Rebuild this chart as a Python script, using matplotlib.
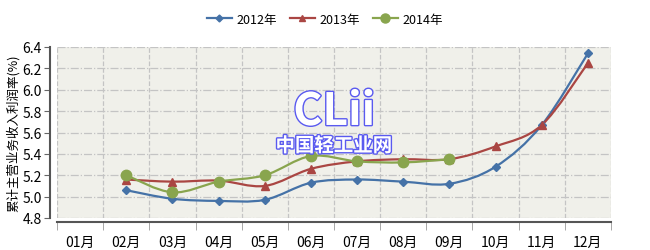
import numpy as np
import matplotlib.pyplot as plt
import matplotlib.patheffects as pe
from matplotlib.path import Path
from matplotlib.patches import PathPatch
from matplotlib.lines import Line2D

plt.rcParams["font.family"] = ["Noto Sans CJK SC", "DejaVu Sans"]

months = ['01月', '02月', '03月', '04月', '05月', '06月', '07月', '08月', '09月', '10月', '11月', '12月']
y2012 = [None, 5.06, 4.98, 4.96, 4.97, 5.13, 5.16, 5.14, 5.12, 5.28, 5.67, 6.34]
y2013 = [None, 5.16, 5.14, 5.15, 5.10, 5.26, 5.33, 5.35, 5.35, 5.47, 5.67, 6.25]
y2014 = [None, 5.20, 5.04, 5.14, 5.20, 5.38, 5.33, 5.32, 5.35]
series_names = ['2012年', '2013年', '2014年']
colors = ['#4572A7', '#AA4643', '#89A54E']
markers = ['D', '^', 'o']
msizes = [4.5, 6, 7.5]


def smooth_path(xs, ys):
    # 用三次贝塞尔曲线把数据点平滑连起来
    pts = np.column_stack([xs, ys])
    n = len(pts)
    verts = [pts[0]]
    codes = [Path.MOVETO]
    for i in range(n - 1):
        p0 = pts[i - 1] if i > 0 else pts[i]
        p1 = pts[i]
        p2 = pts[i + 1]
        p3 = pts[i + 2] if i + 2 < n else pts[i + 1]
        c1 = p1 + (p2 - p0) / 6
        c2 = p2 - (p3 - p1) / 6
        verts += [c1, c2, p2]
        codes += [Path.CURVE4] * 3
    return Path(verts, codes)


fig = plt.figure(figsize=(6.5, 2.51), dpi=100)
ax = fig.add_axes([57 / 650, 32 / 251, 554 / 650, 171 / 251])
ax.set_facecolor('#F0F0EA')

data = [y2012, y2013, y2014]
handles = []
for vals, name, c, m, ms in zip(data, series_names, colors, markers, msizes):
    xs = [i for i, v in enumerate(vals) if v is not None]
    ys = [v for v in vals if v is not None]
    ax.add_patch(PathPatch(smooth_path(xs, ys), facecolor='none', edgecolor=c, lw=1.6, zorder=3))
    ax.plot(xs, ys, linestyle='none', marker=m, color=c, markersize=ms, zorder=4)
    handles.append(Line2D([], [], color=c, lw=1.6, marker=m, markersize=ms - 1, label=name))

ax.set_xlim(-0.5, 11.5)
ax.set_ylim(4.8, 6.4)
ax.set_yticks(np.arange(4.8, 6.41, 0.2))
ax.set_yticklabels(['%.1f' % v for v in np.arange(4.8, 6.41, 0.2)], fontsize=8.5, color='#333333')
ax.set_xticks(range(12))
ax.set_xticklabels(months, fontsize=8.5, color='#333333')
ax.set_xticks(np.arange(-0.5, 12, 1), minor=True)
ax.tick_params(axis='x', which='major', length=0, pad=9)
ax.tick_params(axis='x', which='minor', length=6, color='#999999')
ax.tick_params(axis='y', length=4, color='#666666', pad=2)

ax.grid(True, axis='y', color='#c4c4c4', linestyle='-.', lw=0.9)
ax.grid(True, axis='x', which='minor', color='#c4c4c4', linestyle='--', lw=0.9)
ax.set_axisbelow(True)

for s in ['top', 'right']:
    ax.spines[s].set_visible(False)
ax.spines['left'].set_position(('outward', 5))
ax.spines['left'].set_color('#555555')
ax.spines['left'].set_linewidth(1.5)
ax.spines['bottom'].set_position(('outward', 3))
ax.spines['bottom'].set_color('#555555')
ax.spines['bottom'].set_linewidth(1.5)

ax.set_ylabel('累计主营业务收入利润率(%)', fontsize=9, labelpad=2)

# 水印
ax.text(0.5, 0.62, 'CLii', transform=ax.transAxes, ha='center', va='center',
        fontsize=32, fontweight='bold', color='white', zorder=5,
        path_effects=[pe.Stroke(linewidth=2, foreground='#5a5af0'), pe.Normal()])
ax.text(0.5, 0.42, '中国轻工业网', transform=ax.transAxes, ha='center', va='center',
        fontsize=14, fontweight='bold', color='white', zorder=5,
        path_effects=[pe.Stroke(linewidth=2, foreground='#5a5af0'), pe.Normal()])

fig.legend(handles=handles, loc='upper center', bbox_to_anchor=(0.5, 0.99), ncol=3,
           frameon=False, fontsize=9, handlelength=2, columnspacing=1.0, handletextpad=0.4)

fig.savefig('out.png', dpi=100)
